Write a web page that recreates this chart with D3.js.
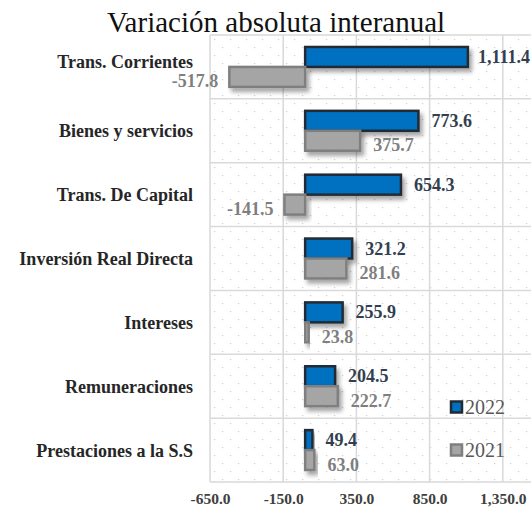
<!DOCTYPE html>
<html>
<head>
<meta charset="utf-8">
<script src="https://cdn.jsdelivr.net/npm/d3@7"></script>
<style>
    body { margin: 0; background: #fff; }
    svg { display: block; }
</style>
</head>
<body>
<div id="chart"></div>
<script>
// chart data
const categories = ["Trans. Corrientes", "Bienes y servicios", "Trans. De Capital",
    "Inversión Real Directa", "Intereses", "Remuneraciones", "Prestaciones a la S.S"];
const years = ["2022", "2021"];
const values2022 = [1111.4, 773.6, 654.3, 321.2, 255.9, 204.5, 49.4];
const values2021 = [-517.8, 375.7, -141.5, 281.6, 23.8, 222.7, 63.0];
const xTicks = [-650, -150, 350, 850, 1350];

const width = 531, height = 508;
const plot = { left: 210, top: 35, bottom: 482, right: 576 };
const serif = "'Liberation Serif', 'Times New Roman', serif";

const styles = {
    "2022": { fill: "#0070C0", stroke: "#222B35", label: "#333F50" },
    "2021": { fill: "#A5A5A5", stroke: "#7F7F7F", label: "#7F7F7F" }
};

// the first category label sits a little higher in the original
const catNudge = { "Trans. Corrientes": -5 };

const rows = categories.map((c, i) => ({ cat: c, "2022": values2022[i], "2021": values2021[i] }));

// plain hyphen for negatives, like excel
const locale = d3.formatLocale({ decimal: ".", thousands: ",", grouping: [3], currency: ["", ""], minus: "-" });
const fmt = locale.format(",.1f");

const svg = d3.select("#chart").append("svg")
    .attr("width", width)
    .attr("height", height);

const defs = svg.append("defs");

// dotted background pattern
const pat = defs.append("pattern")
    .attr("id", "dots")
    .attr("patternUnits", "userSpaceOnUse")
    .attr("x", plot.left).attr("y", plot.top)
    .attr("width", 16).attr("height", 16);
pat.append("rect").attr("x", 4).attr("y", 4).attr("width", 1.2).attr("height", 1.2).attr("fill", "#cccccc");
pat.append("rect").attr("x", 12).attr("y", 12).attr("width", 1.2).attr("height", 1.2).attr("fill", "#cccccc");

// soft shadow like excel
defs.append("filter")
    .attr("id", "shadow")
    .attr("x", "-20%").attr("y", "-40%").attr("width", "150%").attr("height", "200%")
    .append("feDropShadow")
    .attr("dx", 3).attr("dy", 4)
    .attr("stdDeviation", 2.2)
    .attr("flood-color", "#000")
    .attr("flood-opacity", 0.35);

// the scale runs past the right edge, the picture is cropped there
const x = d3.scaleLinear().domain([-650, 1850]).range([plot.left, plot.right]);
const y = d3.scaleBand().domain(categories).range([plot.top, plot.bottom]);
const yInner = d3.scaleBand().domain(years).range([0, y.bandwidth()]).paddingOuter(0.6);

// background
svg.append("rect")
    .attr("x", plot.left).attr("y", plot.top)
    .attr("width", plot.right - plot.left).attr("height", plot.bottom - plot.top)
    .attr("fill", "url(#dots)");

// gridlines
const grid = svg.append("g").attr("stroke", "#D9D9D9").attr("stroke-width", 1.5);
grid.selectAll("line.v")
    .data(xTicks)
    .join("line")
    .attr("class", "v")
    .attr("x1", d => x(d)).attr("x2", d => x(d))
    .attr("y1", plot.top).attr("y2", plot.bottom);
grid.selectAll("line.h")
    .data(categories.concat([null]))
    .join("line")
    .attr("class", "h")
    .attr("x1", plot.left).attr("x2", plot.right)
    .attr("y1", d => d === null ? plot.bottom : y(d))
    .attr("y2", d => d === null ? plot.bottom : y(d));

// x axis labels
const xAxis = d3.axisBottom(x)
    .tickValues(xTicks)
    .tickFormat(fmt)
    .tickSize(0)
    .tickPadding(0);
const axisG = svg.append("g")
    .attr("transform", `translate(0,${plot.bottom + 11})`)
    .call(xAxis);
axisG.select(".domain").remove();
axisG.selectAll("text")
    .attr("font-family", serif)
    .attr("font-size", 15.5)
    .attr("font-weight", "bold")
    .attr("fill", "#404040");

// category labels
svg.append("g").selectAll("text")
    .data(categories)
    .join("text")
    .attr("x", 193)
    .attr("y", d => y(d) + y.bandwidth() / 2 + 6.5 + (catNudge[d] || 0))
    .attr("text-anchor", "end")
    .attr("font-family", serif)
    .attr("font-size", 18)
    .attr("font-weight", "bold")
    .attr("fill", "#262626")
    .text(d => d);

// bars
const groups = svg.append("g").selectAll("g")
    .data(rows)
    .join("g")
    .attr("transform", d => `translate(0,${y(d.cat)})`);

years.forEach(yr => {
    groups.append("rect")
        .attr("x", d => x(Math.min(0, d[yr])))
        .attr("y", yInner(yr))
        .attr("width", d => Math.abs(x(d[yr]) - x(0)))
        .attr("height", yInner.bandwidth())
        .attr("fill", styles[yr].fill)
        .attr("stroke", styles[yr].stroke)
        .attr("stroke-width", 2.5)
        .attr("filter", "url(#shadow)");
});

// value labels
years.forEach(yr => {
    groups.append("text")
        .attr("font-family", serif)
        .attr("font-size", 18)
        .attr("font-weight", "bold")
        .attr("fill", styles[yr].label)
        .attr("y", yInner(yr) + yInner.bandwidth() / 2 + (yr === "2022" ? 6 : 10.5))
        .text(d => fmt(d[yr]))
        .each(function(d) {
            const t = d3.select(this);
            const v = d[yr];
            if (v < 0) {
                t.attr("text-anchor", "end").attr("x", x(v) - 11);
            } else {
                let px = x(v) + 13;
                const w = this.getComputedTextLength();
                if (px + w > width - 1) px = width - 1 - w;
                t.attr("x", px);
            }
        });
});

// legend
const legend = svg.append("g");
const legendY = { "2022": 407, "2021": 450 };
years.forEach(yr => {
    legend.append("rect")
        .attr("x", 451).attr("y", legendY[yr] - 5.5)
        .attr("width", 11).attr("height", 11)
        .attr("fill", styles[yr].fill)
        .attr("stroke", styles[yr].stroke)
        .attr("stroke-width", 2.5);
    legend.append("text")
        .attr("x", 465).attr("y", legendY[yr] + 7)
        .attr("font-family", serif)
        .attr("font-size", 20)
        .attr("fill", "#595959")
        .text(yr);
});

// title
svg.append("text")
    .attr("x", 276).attr("y", 32)
    .attr("text-anchor", "middle")
    .attr("font-family", serif)
    .attr("font-size", 29)
    .attr("fill", "#111")
    .text("Variación absoluta interanual");
</script>
</body>
</html>
